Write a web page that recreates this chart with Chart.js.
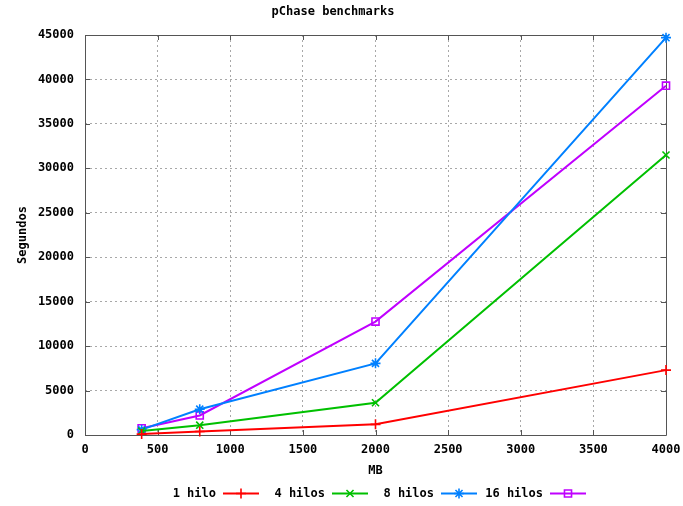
<!DOCTYPE html>
<html>
<head>
<meta charset="utf-8">
<script src="https://cdn.jsdelivr.net/npm/chart.js@4/dist/chart.umd.min.js"></script>
<style>
  html, body { margin: 0; padding: 0; background: #ffffff; }
  #wrap { width: 683px; height: 506px; }
</style>
</head>
<body>
<div id="wrap"><canvas id="c" width="683" height="506"></canvas></div>
<script>
// Benchmark data: run time (seconds) per input size (MB) and thread count
const sizesMB   = [390, 790, 2000, 4000];
const hilo1     = [100, 400, 1200, 7300];
const hilos4    = [450, 1100, 3630, 31500];
const hilos8    = [600, 2900, 8060, 44700];
const hilos16   = [750, 2200, 12760, 39300];
const seriesNames  = ['1 hilo', '4 hilos', '8 hilos', '16 hilos'];
const seriesValues = [hilo1, hilos4, hilos8, hilos16];
const seriesColors = ['#ff0000', '#00c000', '#0080ff', '#c000ff'];
const seriesMarks  = ['cross', 'crossRot', 'star', 'rect'];

const FONT = '"DejaVu Sans Mono", "Liberation Mono", monospace';

const datasets = seriesNames.map((name, i) => ({
  label: name,
  data: sizesMB.map((x, j) => ({ x: x, y: seriesValues[i][j] })),
  borderColor: seriesColors[i],
  backgroundColor: 'rgba(0,0,0,0)',
  borderWidth: 2,
  pointStyle: seriesMarks[i],
  pointRadius: 5,
  pointHoverRadius: 5,
  pointBorderWidth: 1.6,
  pointBorderColor: seriesColors[i],
  pointBackgroundColor: 'rgba(0,0,0,0)',
  tension: 0,
  clip: false
}));

// Inward tick marks on all four sides plus the top/right frame
const frameTicks = {
  id: 'frameTicks',
  beforeDatasetsDraw(chart) {
    const { ctx, chartArea: a, scales } = chart;
    const len = 5;
    ctx.save();
    ctx.strokeStyle = '#555555';
    ctx.lineWidth = 1;
    ctx.beginPath();
    scales.x.ticks.forEach(t => {
      const px = Math.round(scales.x.getPixelForValue(t.value)) + 0.5;
      ctx.moveTo(px, a.bottom); ctx.lineTo(px, a.bottom - len);
      ctx.moveTo(px, a.top);    ctx.lineTo(px, a.top + len);
    });
    scales.y.ticks.forEach(t => {
      const py = Math.round(scales.y.getPixelForValue(t.value)) + 0.5;
      ctx.moveTo(a.left, py);  ctx.lineTo(a.left + len, py);
      ctx.moveTo(a.right, py); ctx.lineTo(a.right - len, py);
    });
    ctx.stroke();
    ctx.beginPath();
    ctx.rect(Math.round(a.left) + 0.5, Math.round(a.top) + 0.5,
             Math.round(a.right - a.left), Math.round(a.bottom - a.top));
    ctx.stroke();
    ctx.restore();
  }
};

// Key below the plot: right-aligned label followed by a line sample with its marker
const bottomKey = {
  id: 'bottomKey',
  afterDraw(chart) {
    const { ctx } = chart;
    const y = 493.5;
    const step = 109;
    ctx.save();
    ctx.font = 'bold 12px ' + FONT;
    ctx.textAlign = 'right';
    ctx.textBaseline = 'middle';
    chart.data.datasets.forEach((ds, i) => {
      const textEnd = 216 + step * i;
      const x0 = 223 + step * i, x1 = 259 + step * i;
      ctx.fillStyle = '#000000';
      ctx.fillText(ds.label, textEnd, y);
      ctx.strokeStyle = ds.borderColor;
      ctx.lineWidth = 2;
      ctx.beginPath();
      ctx.moveTo(x0, y); ctx.lineTo(x1, y);
      ctx.stroke();
      ctx.lineWidth = 1.6;
      ctx.fillStyle = 'rgba(0,0,0,0)';
      Chart.helpers.drawPoint(ctx, {
        pointStyle: ds.pointStyle, radius: 5, rotation: 0, borderWidth: 1.6
      }, (x0 + x1) / 2, y);
    });
    ctx.restore();
  }
};

new Chart(document.getElementById('c'), {
  type: 'line',
  data: { datasets: datasets },
  plugins: [frameTicks, bottomKey],
  options: {
    responsive: false,
    animation: false,
    events: [],
    layout: { padding: { left: 0, right: 17, top: 0, bottom: 26 } },
    plugins: {
      legend: { display: false },
      tooltip: { enabled: false },
      title: {
        display: true,
        text: 'pChase benchmarks',
        color: '#000000',
        font: { family: FONT, size: 12, weight: 'bold', lineHeight: 1.2 },
        padding: { top: 5, bottom: 15.6 }
      }
    },
    scales: {
      x: {
        type: 'linear',
        min: 0, max: 4000,
        afterFit(scale) {
          scale.height = 45;
          scale.paddingLeft = 0;
          scale.paddingRight = 0;
        },
        ticks: {
          stepSize: 500,
          color: '#000000',
          padding: 8,
          maxRotation: 0,
          font: { family: FONT, size: 12, weight: 'bold' },
          callback: v => String(v)
        },
        grid: { color: '#a8a8a8', drawTicks: false, lineWidth: 1 },
        border: { display: false, dash: [2, 3] },
        title: {
          display: true,
          text: 'MB',
          color: '#000000',
          font: { family: FONT, size: 12, weight: 'bold', lineHeight: 1.2 },
          padding: { top: 0, bottom: 2 }
        }
      },
      y: {
        type: 'linear',
        min: 0, max: 45000,
        afterFit(scale) {
          scale.width = 85;
          scale.paddingTop = 0;
          scale.paddingBottom = 0;
        },
        ticks: {
          stepSize: 5000,
          color: '#000000',
          padding: 11,
          font: { family: FONT, size: 12, weight: 'bold' },
          callback: v => String(v)
        },
        grid: { color: '#a8a8a8', drawTicks: false, lineWidth: 1 },
        border: { display: false, dash: [2, 3] },
        title: {
          display: true,
          text: 'Segundos',
          color: '#000000',
          font: { family: FONT, size: 12, weight: 'bold', lineHeight: 1.2 },
          padding: { top: 16, bottom: 0 }
        }
      }
    }
  }
});
</script>
</body>
</html>
